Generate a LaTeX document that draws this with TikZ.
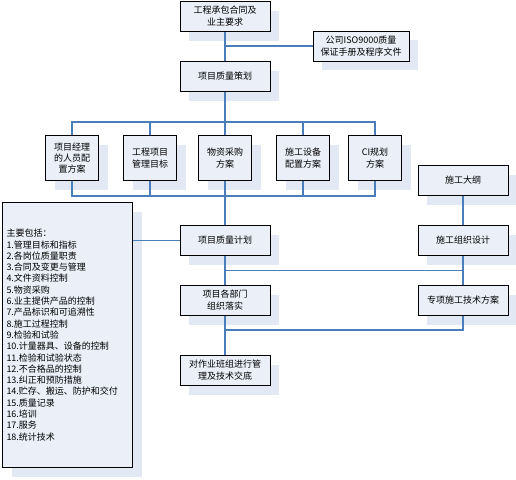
\documentclass[tikz,border=0pt]{standalone}
\usepackage{fontspec}
\setmainfont{Noto Sans CJK SC}
\usepackage{tikz}
\usetikzlibrary{positioning, shadows, calc}
\definecolor{linkblue}{HTML}{4A7EBB}
\definecolor{boxfill}{HTML}{EAEFF8}
\definecolor{shadowfill}{HTML}{E3E9F4}

\begin{document}
\begin{tikzpicture}[
  x=1pt, y=-1pt,
  box/.style={rectangle, draw=black, line width=1pt, fill=boxfill, align=center, inner sep=2pt, font=\fontsize{9}{12}\selectfont, drop shadow={shadow xshift=9pt, shadow yshift=-9pt, fill=shadowfill, opacity=1}},
  wide/.style={box, minimum width=90pt, minimum height=30pt},
  small/.style={box, minimum width=53pt, minimum height=45pt, font=\fontsize{9}{11.3}\selectfont},
  link/.style={draw=linkblue, line width=1.6pt}
]
  \useasboundingbox (0,0) rectangle (516,479);

  \node[wide] (contract) at (225,16.5) {工程承包合同及\\业主要求};
  \node[wide, minimum width=96pt] (iso) at (361,46) {公司ISO9000质量\\保证手册及程序文件};
  \node[wide, below=29pt of contract] (planning) {项目质量策划};

  \node[small, below=43pt of planning] (material) {物资采购\\方案};
  \node[small, left=21pt of material] (target) {工程项目\\管理目标};
  \node[small, left=24pt of target] (staff) {项目经理\\的人员配\\置方案};
  \node[small, right=24pt of material] (equip) {施工设备\\配置方案};
  \node[small, right=18pt of equip] (ci) {CI规划\\方案};

  \node[wide, below=44pt of material] (qplan) {项目质量计划};
  \node[wide, below=29pt of qplan] (dept) {项目各部门\\组织落实};
  \node[wide, below=39pt of dept] (brief) {对作业班组进行管\\理及技术交底};
  \node[wide, right=147pt of qplan] (design) {施工组织设计};
  \node[wide, above=29pt of design] (outline) {施工大纲};
  \node[wide, right=147pt of dept] (special) {专项施工技术方案};

  \node[box, anchor=north west, align=left, text width=122pt, minimum height=265pt, inner sep=4pt,
    font=\fontsize{9}{11.3}\selectfont] (items) at (2,202) {主要包括：\\
    1.管理目标和指标\\
    2.各岗位质量职责\\
    3.合同及变更与管理\\
    4.文件资料控制\\
    5.物资采购\\
    6.业主提供产品的控制\\
    7.产品标识和可追溯性\\
    8.施工过程控制\\
    9.检验和试验\\
    10.计量器具、设备的控制\\
    11.检验和试验状态\\
    12.不合格品的控制\\
    13.纠正和预防措施\\
    14.贮存、搬运、防护和交付\\
    15.质量记录\\
    16.培训\\
    17.服务\\
    18.统计技术};

  % upper part
  \draw[link] (contract) -- (planning);
  \draw[link] (iso.west) -- (iso.west -| contract.south);
  \draw[link] (planning) -- (material);
  \draw[link] (staff.north) -- ++(0,13pt) -| (ci.north);
  \foreach \n in {target, equip} \draw[link] (\n.north) -- ++(0,13pt);
  \draw[link] (staff.south) -- ++(0,-15pt) -| (ci.south);
  \foreach \n in {target, equip} \draw[link] (\n.south) -- ++(0,-15pt);
  \draw[link] (material) -- (qplan);

  % lower part
  \draw[link] (items.east |- qplan.west) -- (qplan.west);
  \draw[link] (outline) -- (design);
  \draw[link] (qplan) -- (dept);
  \draw[link] (design) -- (special);
  \coordinate (join1) at ($(qplan.south)!0.5!(dept.north)$);
  \draw[link] (join1) -- (join1 -| design.south);
  \draw[link] (dept) -- (brief);
  \draw[link] (special.south) |- ($(dept.south)!0.36!(brief.north)$);
\end{tikzpicture}
\end{document}
